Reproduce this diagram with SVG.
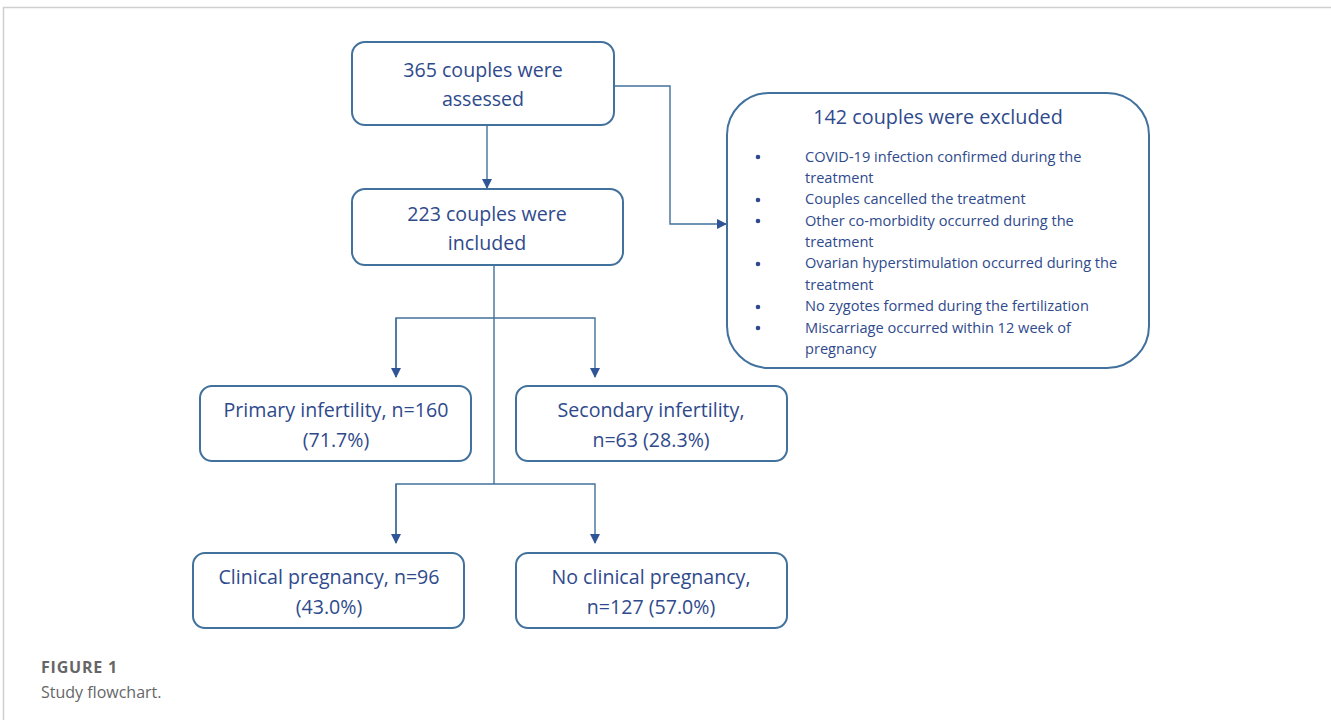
<svg xmlns="http://www.w3.org/2000/svg" width="1331" height="720" viewBox="0 0 1331 720">
<style>
.box{fill:#fff;stroke:#41719c;stroke-width:2}
.t{font-family:"Open Sans","Liberation Sans",sans-serif;fill:#2f4a8c;text-anchor:middle}
.m{font-size:19.6px}
.b{font-family:"Open Sans","Liberation Sans",sans-serif;fill:#2f4a8c;font-size:14.6px}
.c{stroke:#41719c;stroke-width:1.4;fill:none}
.cap{font-family:"Open Sans","Liberation Sans",sans-serif;fill:#666}
</style>
<defs>
<marker id="ah" markerWidth="10" markerHeight="10" refX="9" refY="5" orient="auto" markerUnits="userSpaceOnUse">
<path d="M0,0 L10,5 L0,10 z" fill="#2f5597"/>
</marker>
</defs>
<rect width="1331" height="720" fill="#fff"/>
<path d="M3.5,720 V7.5 H1331" fill="none" stroke="#d0d0d0" stroke-width="1.5"/>
<g id="connectors">
<path class="c" d="M487,125 V188" marker-end="url(#ah)"/>
<path class="c" d="M615,86 H670 V224 H726" marker-end="url(#ah)"/>
<path class="c" d="M494,265 V484"/>
<path class="c" d="M396,377 V318 H595 V377" marker-end="url(#ah)"/>
<path class="c" d="M396,318 V377" marker-end="url(#ah)"/>
<path class="c" d="M396,543 V484 H595 V543" marker-end="url(#ah)"/>
<path class="c" d="M396,484 V543" marker-end="url(#ah)"/>
</g>
<g id="assessed">
<rect class="box" x="352" y="42" width="262" height="83" rx="13"/>
<text class="t m" x="483" y="77">365 couples were</text>
<text class="t m" x="483" y="106">assessed</text>
</g>
<g id="included">
<rect class="box" x="352" y="189" width="271" height="76" rx="13"/>
<text class="t m" x="487" y="221">223 couples were</text>
<text class="t m" x="487" y="250">included</text>
</g>
<g id="excluded">
<rect class="box" x="727" y="93" width="422" height="275" rx="42"/>
<text class="t" x="938" y="124" font-size="19.8">142 couples were excluded</text>
<g fill="#2f4a8c">
<circle cx="758" cy="157" r="2.3"/>
<circle cx="758" cy="200" r="2.3"/>
<circle cx="758" cy="221" r="2.3"/>
<circle cx="758" cy="264" r="2.3"/>
<circle cx="758" cy="307" r="2.3"/>
<circle cx="758" cy="328" r="2.3"/>
</g>
<text class="b" x="805" y="162">COVID-19 infection confirmed during the</text>
<text class="b" x="805" y="183">treatment</text>
<text class="b" x="805" y="204">Couples cancelled the treatment</text>
<text class="b" x="805" y="226">Other co-morbidity occurred during the</text>
<text class="b" x="805" y="247">treatment</text>
<text class="b" x="805" y="268">Ovarian hyperstimulation occurred during the</text>
<text class="b" x="805" y="290">treatment</text>
<text class="b" x="805" y="311">No zygotes formed during the fertilization</text>
<text class="b" x="805" y="333">Miscarriage occurred within 12 week of</text>
<text class="b" x="805" y="354">pregnancy</text>
</g>
<g id="primary">
<rect class="box" x="200" y="386" width="271" height="75" rx="12"/>
<text class="t m" x="336" y="417">Primary infertility, n=160</text>
<text class="t m" x="336" y="447">(71.7%)</text>
</g>
<g id="secondary">
<rect class="box" x="516" y="386" width="271" height="75" rx="12"/>
<text class="t m" x="651" y="417">Secondary infertility,</text>
<text class="t m" x="651" y="447">n=63 (28.3%)</text>
</g>
<g id="clinical">
<rect class="box" x="193" y="553" width="271" height="75" rx="12"/>
<text class="t m" x="329" y="584">Clinical pregnancy, n=96</text>
<text class="t m" x="329" y="614">(43.0%)</text>
</g>
<g id="noclinical">
<rect class="box" x="516" y="553" width="271" height="75" rx="12"/>
<text class="t m" x="651" y="584">No clinical pregnancy,</text>
<text class="t m" x="651" y="614">n=127 (57.0%)</text>
</g>
<text class="cap" x="41" y="673" font-size="16" font-weight="bold" letter-spacing="0.8">FIGURE 1</text>
<text class="cap" x="41" y="698" font-size="16">Study flowchart.</text>
</svg>
